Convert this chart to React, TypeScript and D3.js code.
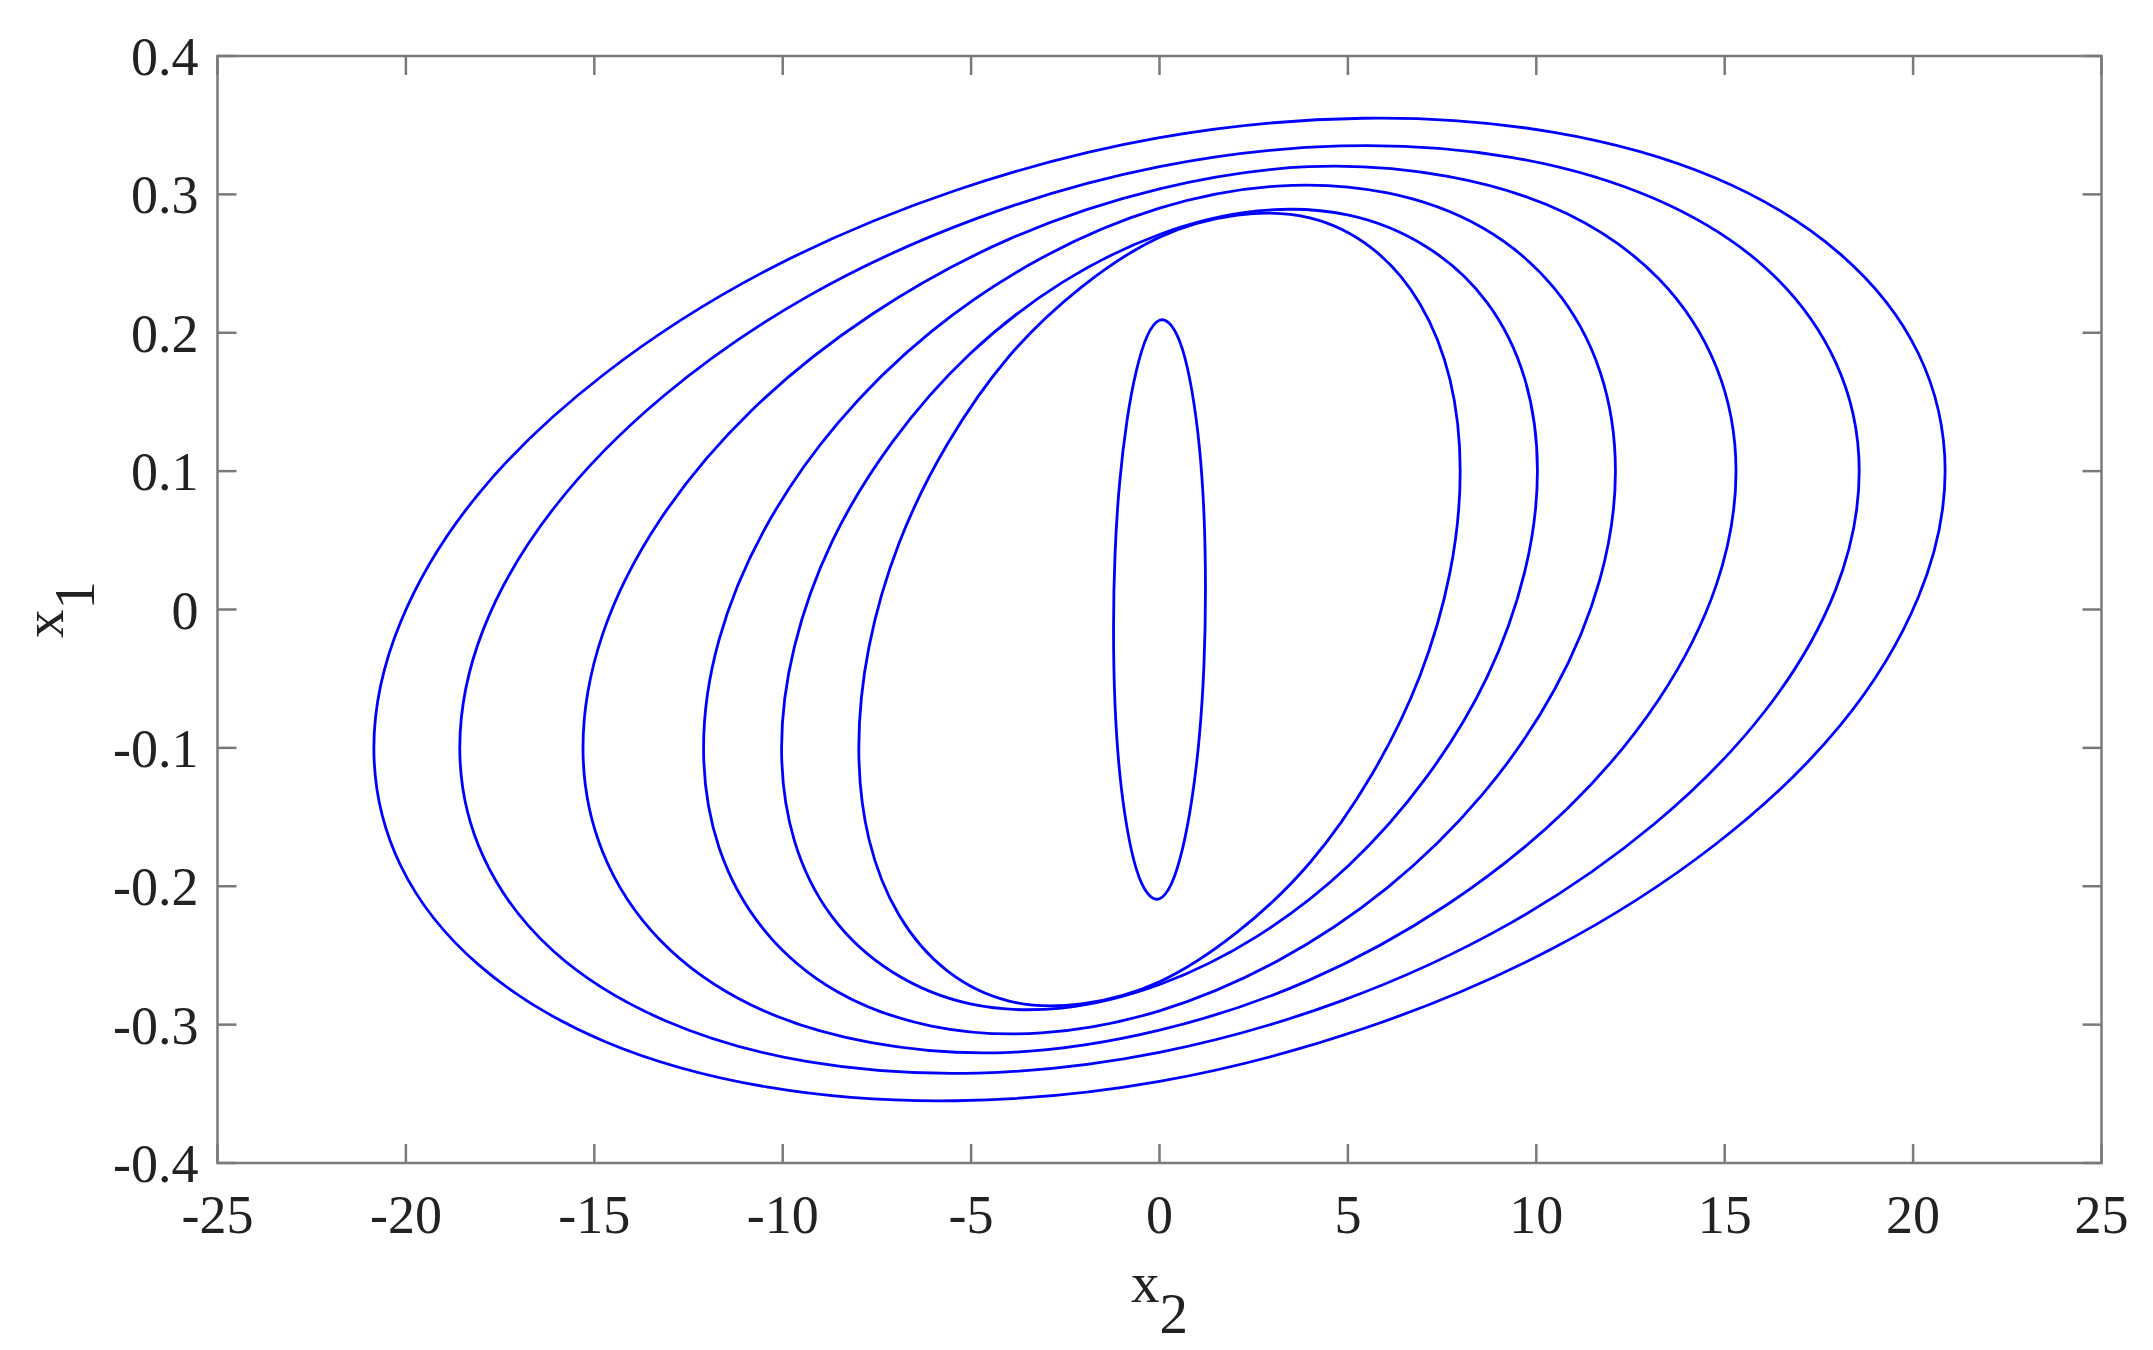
import React from 'react';
import * as d3 from 'd3';

// Axis ticks
const xTickValues = [-25, -20, -15, -10, -5, 0, 5, 10, 15, 20, 25];
const xTickLabels = ['-25', '-20', '-15', '-10', '-5', '0', '5', '10', '15', '20', '25'];
const yTickValues = [-0.4, -0.3, -0.2, -0.1, 0, 0.1, 0.2, 0.3, 0.4];
const yTickLabels = ['-0.4', '-0.3', '-0.2', '-0.1', '0', '0.1', '0.2', '0.3', '0.4'];

// Trajectories: points [x2, x1]
const curveInner: [number, number][] = [
  [1.22, 0.015], [1.18, 0.069], [1.06, 0.117], [0.86, 0.158], [0.61, 0.188], [0.32, 0.205],
  [0, 0.209], [-0.32, 0.198], [-0.61, 0.173], [-0.86, 0.137], [-1.06, 0.091], [-1.18, 0.040],
  [-1.22, -0.015], [-1.18, -0.069], [-1.06, -0.117], [-0.86, -0.158], [-0.61, -0.188], [-0.32, -0.205],
  [0, -0.209], [0.32, -0.198], [0.61, -0.173], [0.86, -0.137], [1.06, -0.091], [1.18, -0.040],
];
const curve6: [number, number][] = [
  [7.98, 0.1], [7.71, 0.166], [6.91, 0.221], [5.64, 0.261], [3.99, 0.283], [2.07, 0.285],
  [0, 0.269], [-2.07, 0.233], [-3.99, 0.183], [-5.64, 0.119], [-6.91, 0.048], [-7.71, -0.027],
  [-7.98, -0.1], [-7.71, -0.166], [-6.91, -0.221], [-5.64, -0.261], [-3.99, -0.283], [-2.07, -0.285],
  [0, -0.269], [2.07, -0.233], [3.99, -0.183], [5.64, -0.119], [6.91, -0.048], [7.71, 0.027],
];
const curve5: [number, number][] = [
  [10.03, 0.1], [9.69, 0.167], [8.69, 0.222], [7.09, 0.262], [5.02, 0.285], [2.6, 0.288],
  [0, 0.271], [-2.6, 0.236], [-5.02, 0.185], [-7.09, 0.121], [-8.69, 0.049], [-9.69, -0.027],
  [-10.03, -0.1], [-9.69, -0.167], [-8.69, -0.222], [-7.09, -0.262], [-5.02, -0.285], [-2.6, -0.288],
  [0, -0.271], [2.6, -0.236], [5.02, -0.185], [7.09, -0.121], [8.69, -0.049], [9.69, 0.027],
];
const curve4: [number, number][] = [
  [12.1, 0.1], [11.69, 0.172], [10.48, 0.232], [8.56, 0.276], [6.05, 0.301], [3.13, 0.306],
  [0, 0.29], [-3.13, 0.254], [-6.05, 0.201], [-8.56, 0.134], [-10.48, 0.058], [-11.69, -0.022],
  [-12.1, -0.1], [-11.69, -0.172], [-10.48, -0.232], [-8.56, -0.276], [-6.05, -0.301], [-3.13, -0.306],
  [0, -0.29], [3.13, -0.254], [6.05, -0.201], [8.56, -0.134], [10.48, -0.058], [11.69, 0.022],
];
const curve3: [number, number][] = [
  [15.3, 0.1], [14.78, 0.175], [13.25, 0.239], [10.82, 0.286], [7.65, 0.313], [3.96, 0.32],
  [0, 0.304], [-3.96, 0.268], [-7.65, 0.213], [-10.82, 0.144], [-13.25, 0.065], [-14.78, -0.018],
  [-15.3, -0.1], [-14.78, -0.175], [-13.25, -0.239], [-10.82, -0.286], [-7.65, -0.313], [-3.96, -0.32],
  [0, -0.304], [3.96, -0.268], [7.65, -0.213], [10.82, -0.144], [13.25, -0.065], [14.78, 0.018],
];
const curve2: [number, number][] = [
  [18.57, 0.1], [17.94, 0.179], [16.08, 0.247], [13.13, 0.297], [9.29, 0.327], [4.81, 0.335],
  [0, 0.32], [-4.81, 0.283], [-9.29, 0.227], [-13.13, 0.155], [-16.08, 0.073], [-17.94, -0.014],
  [-18.57, -0.1], [-17.94, -0.179], [-16.08, -0.247], [-13.13, -0.297], [-9.29, -0.327], [-4.81, -0.335],
  [0, -0.32], [4.81, -0.283], [9.29, -0.227], [13.13, -0.155], [16.08, -0.073], [17.94, 0.014],
];
const curve1: [number, number][] = [
  [20.85, 0.1], [20.14, 0.185], [18.06, 0.257], [14.74, 0.312], [10.43, 0.345], [5.4, 0.355],
  [0, 0.341], [-5.4, 0.303], [-10.43, 0.245], [-14.74, 0.17], [-18.06, 0.084], [-20.14, -0.009],
  [-20.85, -0.1], [-20.14, -0.185], [-18.06, -0.257], [-14.74, -0.312], [-10.43, -0.345], [-5.4, -0.355],
  [0, -0.341], [5.4, -0.303], [10.43, -0.245], [14.74, -0.17], [18.06, -0.084], [20.14, 0.009],
];

const curves = [curveInner, curve6, curve5, curve4, curve3, curve2, curve1];

export default function App() {
  const W = 2153;
  const H = 1350;
  const left = 217.5;
  const right = 2101.5;
  const top = 56;
  const bottom = 1163;
  const tickLen = 19;
  const axisColor = '#7a7a7a';
  const textColor = '#222';
  const font = '"Liberation Serif", "Times New Roman", serif';

  const x = d3.scaleLinear().domain([-25, 25]).range([left, right]);
  const y = d3.scaleLinear().domain([-0.4, 0.4]).range([bottom, top]);

  const line = d3
    .line<[number, number]>()
    .x((d) => x(d[0]))
    .y((d) => y(d[1]))
    .curve(d3.curveCardinalClosed.tension(0));

  return (
    <svg
      width={W}
      height={H}
      style={{ position: 'absolute', left: 0, top: 0, background: '#fff' }}
      xmlns="http://www.w3.org/2000/svg"
    >
      <rect x={0} y={0} width={W} height={H} fill="#fff" />
      {/* curves */}
      <g fill="none" stroke="#0000ff" strokeWidth={2.8} strokeLinejoin="round">
        {curves.map((c, i) => (
          <path key={i} d={line(c) || ''} />
        ))}
      </g>
      {/* box */}
      <rect x={left} y={top} width={right - left} height={bottom - top} fill="none" stroke={axisColor} strokeWidth={2.5} />
      {/* ticks */}
      <g stroke={axisColor} strokeWidth={2.5}>
        {xTickValues.map((v, i) => (
          <g key={'xt' + i}>
            <line x1={x(v)} x2={x(v)} y1={bottom} y2={bottom - tickLen} />
            <line x1={x(v)} x2={x(v)} y1={top} y2={top + tickLen} />
          </g>
        ))}
        {yTickValues.map((v, i) => (
          <g key={'yt' + i}>
            <line x1={left} x2={left + tickLen} y1={y(v)} y2={y(v)} />
            <line x1={right} x2={right - tickLen} y1={y(v)} y2={y(v)} />
          </g>
        ))}
      </g>
      {/* tick labels */}
      <g fill={textColor} fontFamily={font} fontSize={54}>
        {xTickValues.map((v, i) => (
          <text key={'xl' + i} x={x(v)} y={bottom + 70} textAnchor="middle">
            {xTickLabels[i]}
          </text>
        ))}
        {yTickValues.map((v, i) => (
          <text key={'yl' + i} x={left - 19} y={y(v) + 19} textAnchor="end">
            {yTickLabels[i]}
          </text>
        ))}
      </g>
      {/* axis labels */}
      <g fill={textColor} fontFamily={font} fontSize={57}>
        <text x={x(0)} y={1302} textAnchor="middle">
          x<tspan dy={31}>2</tspan>
        </text>
        <text transform={`translate(63, ${y(0)}) rotate(-90)`} textAnchor="middle">
          x<tspan dy={31}>1</tspan>
        </text>
      </g>
    </svg>
  );
}
